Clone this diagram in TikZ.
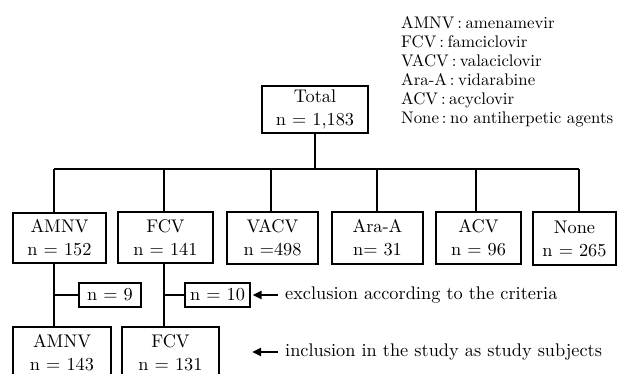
\documentclass[tikz,border=0pt]{standalone}
\usepackage{fontspec}
\setmainfont{lmroman10-regular}[Extension=.otf]
\usetikzlibrary{arrows.meta}
\newcommand{\lgsep}{\kern3pt:\kern3.5pt}
\begin{document}
\begin{tikzpicture}[x=1pt,y=-1pt,
  box/.style={draw,line width=1.3pt,inner sep=0pt,align=center,font=\fontsize{18.3}{23}\selectfont},
  conn/.style={line width=1.3pt},
  note/.style={line width=2.4pt,-{Triangle[length=9pt,width=8pt]}},
  lbl/.style={anchor=west,inner sep=0pt,font=\fontsize{18.3}{23}\selectfont}]
\useasboundingbox (0,0) rectangle (618,374);
\clip (0,0) rectangle (618,374);
% legend
\node[anchor=north west,inner sep=0pt,align=left,font=\fontsize{16.8}{19}\selectfont] (legend) at (401,16.5)
 {AMNV\lgsep amenamevir\\FCV\lgsep famciclovir\\VACV\lgsep valaciclovir\\Ara-A\lgsep vidarabine\\ACV\lgsep acyclovir\\None\lgsep no antiherpetic agents};
% boxes
\node[box,minimum width=106pt,minimum height=47pt] (total) at (315,109.5) {Total\\n = 1,183};
\node[box,minimum width=93pt,minimum height=50pt] (amnv) at (59.5,238) {AMNV\\n = 152};
\node[box,minimum width=95pt,minimum height=51pt] (fcv) at (165.5,237.5) {FCV\\n = 141};
\node[box,minimum width=91pt,minimum height=52pt] (vacv) at (272.5,238) {VACV\\n =498};
\node[box,minimum width=91pt,minimum height=52pt] (ara) at (377.5,238) {Ara-A\\n= 31\hspace{4pt}};
\node[box,minimum width=85pt,minimum height=52pt] (acv) at (478.5,238) {ACV\\n = 96\hspace{12pt}};
\node[box,minimum width=83pt,minimum height=53pt] (none) at (574.5,238.5) {None\\n = 265};
\node[box,minimum width=62pt,minimum height=24pt] (n9) at (110,295) {n = 9};
\node[box,minimum width=65pt,minimum height=24pt] (n10) at (217.5,295) {n = 10};
\node[box,minimum width=98pt,minimum height=52pt] (amnv2) at (62,353) {AMNV\\n = 143};
\node[box,minimum width=97pt,minimum height=52pt] (fcv2) at (170.5,353) {FCV\\n = 131};
% tree connectors
\coordinate (b1) at (54,169);
\coordinate (b2) at (164,169);
\coordinate (b3) at (271,169);
\coordinate (b4) at (377,169);
\coordinate (b5) at (476,169);
\coordinate (b6) at (579,169);
\draw[conn] (total.south) -- (total.south |- b1);
\draw[conn] (b1) -- (b6);
\draw[conn] (b1) -- (b1 |- amnv.north);
\draw[conn] (b2) -- (b2 |- fcv.north);
\draw[conn] (b3) -- (b3 |- vacv.north);
\draw[conn] (b4) -- (b4 |- ara.north);
\draw[conn] (b5) -- (b5 |- acv.north);
\draw[conn] (b6) -- (b6 |- none.north);
\draw[conn] (b1 |- amnv.south) -- (b1 |- amnv2.north);
\draw[conn] (b2 |- fcv.south) -- (b2 |- fcv2.north);
\draw[conn] (b1 |- n9.west) -- (n9.west);
\draw[conn] (b2 |- n10.west) -- (n10.west);
% notes
\coordinate (a1) at (278,295);
\coordinate (a2) at (278,352);
\coordinate (t2) at (252,352);
\draw[note] (a1) -- ([xshift=2pt]n10.east);
\draw[note] (a2) -- (t2);
\node[lbl] (ex) at (285,295) {exclusion according to the criteria};
\node[lbl] (inc) at (285,352) {inclusion in the study as study subjects};
\end{tikzpicture}
\end{document}
